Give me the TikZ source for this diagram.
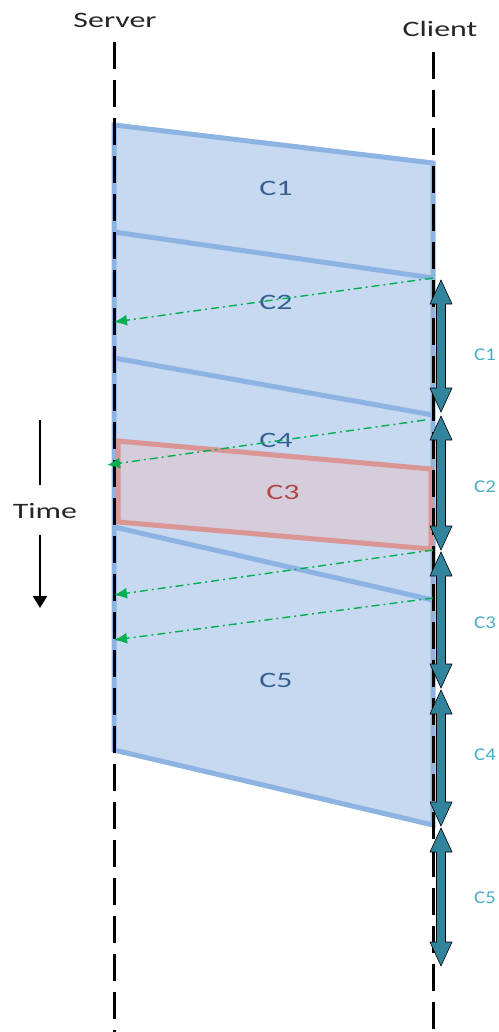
\documentclass[tikz,border=0pt]{standalone}
\usepackage{fontspec}
\setmainfont{Carlito}
\newfontfamily\widefont[FakeStretch=1.45]{Carlito}
\newfontfamily\midfont[FakeStretch=1.15]{Carlito}
\usetikzlibrary{arrows.meta}
\definecolor{bfill}{RGB}{198,217,240}
\definecolor{bline}{RGB}{141,179,226}
\definecolor{rfill}{RGB}{213,204,220}
\definecolor{rline}{RGB}{217,150,148}
\definecolor{gline}{RGB}{0,176,80}
\definecolor{teal}{RGB}{49,132,155}
\definecolor{tlab}{RGB}{75,172,198}
\definecolor{cblue}{RGB}{54,96,146}
\definecolor{cred}{RGB}{180,70,70}
\tikzset{
  lifeline/.style={line width=3pt, dash pattern=on 27pt off 11pt, black},
  chunkline/.style={bline, line width=5pt},
  ack/.style={gline, line width=1.4pt, dash pattern=on 8pt off 4pt on 2pt off 4pt, -{Latex[length=13pt,width=11pt]}},
  clab/.style={text=cblue, font=\widefont\fontsize{22}{24}\selectfont},
  rlab/.style={text=tlab, font=\midfont\fontsize{18}{20}\selectfont},
  hdr/.style={text=black!85, font=\widefont\fontsize{22}{24}\selectfont},
  dur/.style={fill=teal, draw=black, line width=0.6pt},
}
\begin{document}
\begin{tikzpicture}[x=1pt,y=-1pt]
\useasboundingbox (0,0) rectangle (498,1032);
% coordinates
\coordinate (s0) at (114,42);
\coordinate (s1) at (114,1032);
\coordinate (c0) at (433,52);
\coordinate (c1) at (433,1032);
% big blue region
\fill[bfill] (114,125) -- (433,163) -- (433,825) -- (114,750) -- cycle;
\draw[chunkline] (114,125) -- (433,163) -- (433,825) -- (114,750) -- cycle;
\draw[chunkline] (114,232) -- (433,278);
\draw[chunkline] (114,358) -- (433,415);
\draw[chunkline] (114,527) -- (433,600);
% red C3 box
\draw[rline, fill=rfill, line width=5pt] (118,441) -- (431,469) -- (431,549) -- (118,522) -- cycle;
% labels inside
\node[clab] (lc1) at (276,188) {C1};
\node[clab] (lc2) at (276,302) {C2};
\node[clab] (lc4) at (276,440) {C4};
\node[clab, text=cred] (lc3) at (283,492) {C3};
\node[clab] (lc5) at (276,680) {C5};
% lifelines
\draw[lifeline] (s0) -- (s1);
\draw[lifeline] (c0) -- (c1);
\node[hdr] (server) at (115,20) {Server};
\node[hdr] (client) at (440,29) {Client};
% acks
\coordinate (a1s) at (433,278); \coordinate (a1e) at (114,322);
\coordinate (a2s) at (425,420); \coordinate (a2e) at (107,465);
\coordinate (a3s) at (433,550); \coordinate (a3e) at (114,595);
\coordinate (a4s) at (433,598); \coordinate (a4e) at (114,640);
\draw[ack] (a1s) -- (a1e);
\draw[ack] (a2s) -- (a2e);
\draw[ack] (a3s) -- (a3e);
\draw[ack] (a4s) -- (a4e);
% durations on client
\foreach \yt/\yb/\lab/\ly in {280/412/C1/355, 416/550/C2/487, 552/688/C3/623, 690/826/C4/755, 828/966/C5/898}{
  \draw[dur] (441,\yt) -- (452,\yt+24) -- (445.5,\yt+24) -- (445.5,\yb-24) -- (452,\yb-24) -- (441,\yb)
     -- (430,\yb-24) -- (436.5,\yb-24) -- (436.5,\yt+24) -- (430,\yt+24) -- cycle;
  \node[rlab] at (485,\ly) {\lab};
}
% time arrow
\coordinate (t0) at (40,420);
\coordinate (t1) at (40,485);
\coordinate (t2) at (40,535);
\coordinate (t3) at (40,608);
\draw[line width=2pt] (t0) -- (t1);
\node[hdr] (time) at (45,511) {Time};
\draw[line width=2pt, -{Triangle[length=12pt,width=14pt]}] (t2) -- (t3);
\end{tikzpicture}
\end{document}
